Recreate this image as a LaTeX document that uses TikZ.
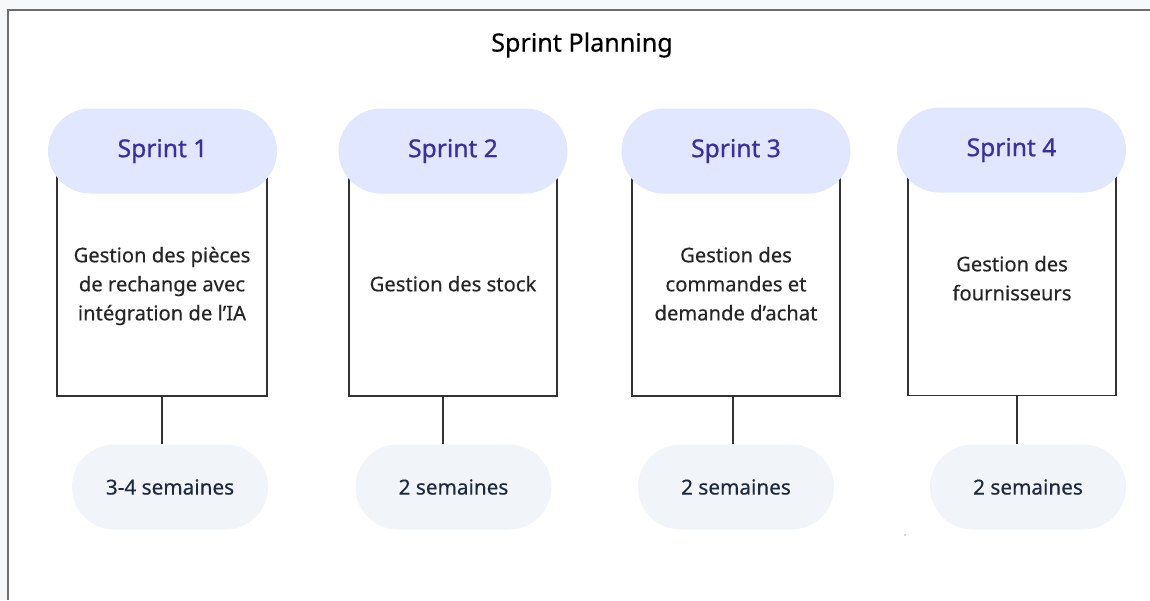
\documentclass[tikz,border=0pt]{standalone}
\usepackage{fontspec}
\setmainfont{Noto Sans}
\newfontfamily\sprintfont[FakeBold=0.9]{Noto Sans}
\newfontfamily\labelfont[FakeBold=0.35]{Noto Sans}
\usepackage{tikz}
\usetikzlibrary{positioning}
\definecolor{sprintfill}{HTML}{E0E7FF}
\definecolor{sprinttext}{HTML}{3730A3}
\definecolor{durfill}{HTML}{F1F4F9}
\definecolor{durtext}{HTML}{1E293B}
\definecolor{boxline}{HTML}{333333}
\definecolor{framegray}{HTML}{6E6E6E}
\definecolor{pagegray}{HTML}{F7F8FA}

\begin{document}
\begin{tikzpicture}[
    x=0.02cm, y=-0.02cm,
    font=\normalfont,
    sprint/.style={
		rectangle,
		rounded corners=0.85cm,
		fill=sprintfill,
		text=sprinttext,
		text centered,
		minimum width=4.58cm,
		minimum height=1.7cm,
		font=\sprintfont\fontsize{14}{17}\selectfont
	},
    task/.style={
		rectangle,
		draw=boxline,
		line width=0.8pt,
		fill=white,
		text=black!85,
		text centered,
		minimum width=4.16cm,
		minimum height=4.42cm,
		font=\labelfont\fontsize{11.5}{16.5}\selectfont
	},
    duration/.style={
		rectangle,
		rounded corners=0.85cm,
		fill=durfill,
		text=durtext,
		text centered,
		minimum width=3.92cm,
		minimum height=1.7cm,
		font=\labelfont\fontsize{11.8}{14}\selectfont
	},
    link/.style={
		draw=boxline,
		line width=0.8pt
	}
  ]
  \useasboundingbox (0,0) rectangle (1150,600);
  \fill [pagegray] (0,0) rectangle (1150,600);
  \fill [white] (8,10) rectangle (1150,600);
  \draw [framegray, line width=0.6pt] (8,600) -- (8,10) -- (1150,10);

  \node [font=\labelfont\fontsize{14.3}{17}\selectfont] (title) at (582,45) {Sprint Planning};

    % We start by placing the blocks

  \node [task] (task1) at (162,285.5)
 {%
 \begin{tabular}{c}
  Gestion des pièces\\
  de rechange avec\\
  intégration de l’IA
 \end{tabular}
 };
  \node [sprint] (sprint1) at (162.5,151) {Sprint 1};

  \node [task] (task2) at (453,285.5)
 {%
 \begin{tabular}{c}
  Gestion des stock
 \end{tabular}
 };
  \node [sprint] (sprint2) at (453,151) {Sprint 2};

  \node [task] (task3) at (736,285.5)
 {%
 \begin{tabular}{c}
  Gestion des\\
  commandes et\\
  demande d’achat
 \end{tabular}
 };
  \node [sprint] (sprint3) at (736,151) {Sprint 3};

  \node [task] (task4) at (1012,285)
 {%
 \begin{tabular}{c}
  Gestion des\\
  fournisseurs\\[0.2cm]
 \end{tabular}
 };
  \node [sprint] (sprint4) at (1011.5,150) {Sprint 4};

  \node [duration] (dur1) at (170,487) {3-4 semaines};
  \node [duration] (dur2) at (453.5,487) {2 semaines};
  \node [duration] (dur3) at (736,487) {2 semaines};
  \node [duration] (dur4) at (1028,487) {2 semaines};

 \draw [link] (task1.south) -- (task1.south |- dur1.north);
 \draw [link] ([xshift=-0.2cm]task2.south) -- ([xshift=-0.2cm]task2.south |- dur2.north);
 \draw [link] ([xshift=-0.06cm]task3.south) -- ([xshift=-0.06cm]task3.south |- dur3.north);
 \draw [link] ([xshift=0.1cm]task4.south) -- ([xshift=0.1cm]task4.south |- dur4.north);

 \fill [black!70] (905,535) circle (0.4pt);

\end{tikzpicture}
\end{document}
